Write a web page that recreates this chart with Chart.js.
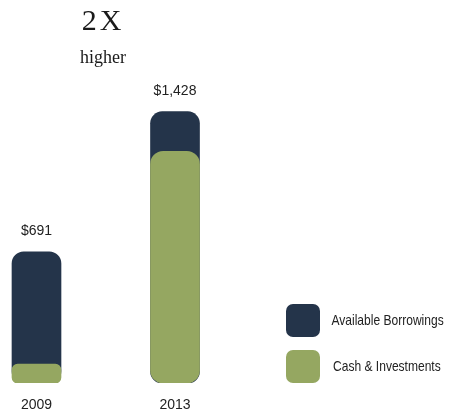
<!DOCTYPE html>
<html lang="en">
<head>
    <meta charset="UTF-8">
    <title>Liquidity 2009 vs 2013</title>
    <script src="https://cdn.jsdelivr.net/npm/chart.js"></script>
    <style>
        body {
            margin: 0;
            background: #fff;
            font-family: "Liberation Sans", Arial, sans-serif;
            color: #222;
        }
        #wrap {
            position: relative;
            width: 453px;
            height: 411px;
            overflow: hidden;
        }
        #liqChart {
            position: absolute;
            left: 0;
            top: 0;
        }
        .headline {
            position: absolute;
            left: 43px;
            width: 120px;
            text-align: center;
            font-family: "Liberation Serif", "DejaVu Serif", serif;
            color: #1a1a1a;
        }
        #big { top: 3px; font-size: 30px; letter-spacing: 3px; }
        #small { top: 47px; font-size: 18px; }
        .legend-row {
            position: absolute;
            left: 286px;
            height: 34px;
            display: flex;
            align-items: center;
        }
        .legend-row .box {
            width: 34px;
            height: 33px;
            border-radius: 7px;
        }
        .legend-row .txt {
            width: 133px;
            text-align: center;
            white-space: nowrap;
            color: #222;
        }
        .legend-row .txt span {
            display: inline-block;
            font-size: 14.5px;
            transform: scaleX(0.83);
        }
    </style>
</head>
<body>
    <div id="wrap">
        <canvas id="liqChart" width="453" height="427"></canvas>
        <div class="headline" id="big">2X</div>
        <div class="headline" id="small">higher</div>
        <div id="legend"></div>
    </div>

    <script>
        // data (in $ millions)
        const years = ['2009', '2013'];
        const borrowings = [591, 208];
        const cash = [100, 1220];

        const navy = '#24344a';
        const green = '#95a761';

        // total bar sits behind, cash bar is drawn over it
        const totals = borrowings.map((b, i) => b + cash[i]);
        const xs = years.map((y, i) => i);

        const barLabels = {
            id: 'barLabels',
            afterDatasetsDraw(chart) {
                const meta = chart.getDatasetMeta(0);
                const c = chart.ctx;
                c.save();
                c.font = '14px "Liberation Sans", Arial, sans-serif';
                c.fillStyle = '#222';
                c.textAlign = 'center';
                c.textBaseline = 'middle';
                meta.data.forEach((bar, i) => {
                    c.fillText('$' + totals[i].toLocaleString('en-US'), bar.x, bar.y - 21);
                });
                c.restore();
            }
        };

        const ctx = document.getElementById('liqChart').getContext('2d');
        const chart = new Chart(ctx, {
            type: 'bar',
            data: {
                datasets: [
                    {
                        label: 'Available Borrowings',
                        data: xs.map(i => ({ x: i, y: totals[i] })),
                        backgroundColor: navy,
                        borderRadius: 12,
                        borderSkipped: false,
                        order: 2
                    },
                    {
                        label: 'Cash & Investments',
                        data: xs.map(i => ({ x: i, y: cash[i] })),
                        backgroundColor: green,
                        borderRadius: c => (c.raw && c.raw.y < 300 ? 6 : 13),
                        borderSkipped: false,
                        order: 1
                    }
                ]
            },
            options: {
                responsive: false,
                animation: false,
                grouped: false,
                barThickness: 49,
                layout: { padding: { top: 79, left: 0, right: 0, bottom: 0 } },
                plugins: {
                    legend: { display: false },
                    tooltip: { enabled: false }
                },
                scales: {
                    x: {
                        type: 'linear',
                        offset: false,
                        min: -0.2635,
                        max: 3.007,
                        grid: { display: false, drawTicks: false },
                        border: { display: false },
                        afterBuildTicks: axis => {
                            axis.ticks = xs.map(v => ({ value: v }));
                        },
                        ticks: {
                            includeBounds: false,
                            autoSkip: false,
                            maxRotation: 0,
                            padding: 16,
                            color: '#222',
                            font: { size: 14, family: '"Liberation Sans", Arial, sans-serif', lineHeight: 0.85 },
                            callback: v => (years[v] !== undefined ? years[v] : '')
                        }
                    },
                    y: {
                        display: false,
                        min: 0,
                        max: 1600
                    }
                }
            },
            plugins: [barLabels]
        });

        // legend built from the chart's datasets, tops of the two swatches
        const legendTops = [303, 349];
        const legendEl = document.getElementById('legend');
        chart.data.datasets.forEach((ds, k) => {
            const row = document.createElement('div');
            row.className = 'legend-row';
            row.style.top = legendTops[k] + 'px';
            row.innerHTML = `<div class="box" style="background:${ds.backgroundColor}"></div><div class="txt"><span>${ds.label}</span></div>`;
            legendEl.appendChild(row);
        });
    </script>
</body>
</html>
